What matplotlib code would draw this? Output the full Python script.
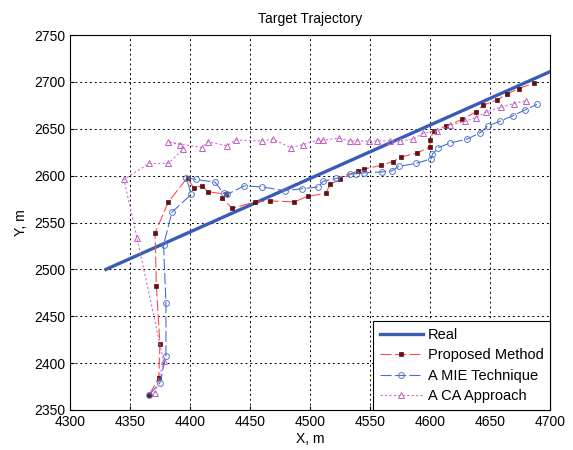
import matplotlib
matplotlib.use('Agg')
import matplotlib.pyplot as plt

plt.rcParams['font.family'] = ['Liberation Sans', 'DejaVu Sans']

# ground truth trajectory
real_x = [4330, 4700]
real_y = [2500, 2711]

# proposed method estimates
prop_x = [4366, 4374, 4375, 4372, 4371, 4382, 4398, 4403, 4410, 4415, 4430, 4427,
          4435, 4454, 4467, 4487, 4498, 4513, 4517, 4525, 4540, 4545, 4559, 4569,
          4576, 4589, 4600, 4600, 4603, 4613, 4627, 4638, 4644, 4656, 4664, 4674, 4687]
prop_y = [2366, 2384, 2420, 2482, 2539, 2572, 2598, 2587, 2589, 2583, 2580, 2576,
          2565, 2572, 2573, 2572, 2578, 2581, 2591, 2596, 2605, 2607, 2611, 2615,
          2620, 2624, 2631, 2638, 2648, 2653, 2660, 2668, 2675, 2681, 2687, 2693, 2699]

# MIE technique estimates
mie_x = [4366, 4375, 4380, 4380, 4378, 4385, 4401, 4397, 4405, 4421, 4428, 4431,
         4445, 4460, 4479, 4493, 4507, 4511, 4522, 4533, 4538, 4545, 4560, 4568,
         4574, 4588, 4601, 4602, 4607, 4617, 4631, 4642, 4648, 4658, 4669, 4679, 4689]
mie_y = [2366, 2379, 2408, 2464, 2526, 2561, 2580, 2598, 2596, 2593, 2581, 2580,
         2589, 2588, 2584, 2586, 2588, 2594, 2597, 2602, 2602, 2603, 2604, 2605,
         2610, 2613, 2618, 2623, 2630, 2635, 2639, 2646, 2653, 2658, 2664, 2670, 2676]

# CA approach estimates
ca_x = [4371, 4378, 4356, 4345, 4366, 4382, 4394, 4392, 4382, 4410, 4415, 4431,
        4438, 4460, 4469, 4484, 4494, 4507, 4511, 4524, 4533, 4539, 4549, 4556,
        4567, 4575, 4586, 4594, 4606, 4617, 4629, 4638, 4647, 4659, 4670, 4680]
ca_y = [2368, 2402, 2533, 2596, 2613, 2613, 2628, 2633, 2636, 2630, 2636, 2632,
        2638, 2637, 2639, 2630, 2633, 2638, 2638, 2640, 2637, 2637, 2637, 2637,
        2637, 2637, 2639, 2645, 2648, 2654, 2658, 2662, 2668, 2673, 2677, 2680]

fig = plt.figure(figsize=(5.73, 4.5), dpi=100)
ax = fig.add_axes([0.122, 0.089, 0.838, 0.833])

ax.plot(real_x, real_y, color='#3a5cb8', lw=2.4, label='Real', zorder=3)
ax.plot(prop_x, prop_y, color='#ff4d4d', lw=0.8, linestyle=(0, (10, 3)),
        marker='s', markersize=2.6, markerfacecolor='#8b0000', markeredgecolor='#222222',
        markeredgewidth=0.5, label='Proposed Method', zorder=4)
ax.plot(mie_x, mie_y, color='#4a6fd0', lw=0.8, linestyle=(0, (10, 3)),
        marker='o', markersize=4.2, markerfacecolor='none', markeredgecolor='#5577cc',
        markeredgewidth=0.7, label='A MIE Technique', zorder=4)
ax.plot(ca_x, ca_y, color='#d070d0', lw=0.8, linestyle=(0, (2, 2)),
        marker='^', markersize=4.2, markerfacecolor='none', markeredgecolor='#c060c0',
        markeredgewidth=0.7, label='A CA Approach', zorder=4)

ax.set_xlim(4300, 4700)
ax.set_ylim(2350, 2750)
ax.set_xticks(range(4300, 4701, 50))
ax.set_yticks(range(2350, 2751, 50))
ax.grid(True, color='black', linestyle=(0, (2, 3)), lw=0.7)
ax.tick_params(direction='in', labelsize=10, length=3)

ax.set_title('Target Trajectory', fontsize=10, pad=9)
ax.set_xlabel('X, m', fontsize=10, labelpad=2)
ax.set_ylabel('Y, m', fontsize=10, labelpad=4)

leg = ax.legend(loc='lower right', fontsize=10.5, handlelength=3.0, fancybox=False,
                framealpha=1, edgecolor='black', borderaxespad=0.0,
                labelspacing=0.45, handletextpad=0.3, borderpad=0.45)
leg.get_frame().set_linewidth(0.8)

fig.savefig('out.png', dpi=100)
